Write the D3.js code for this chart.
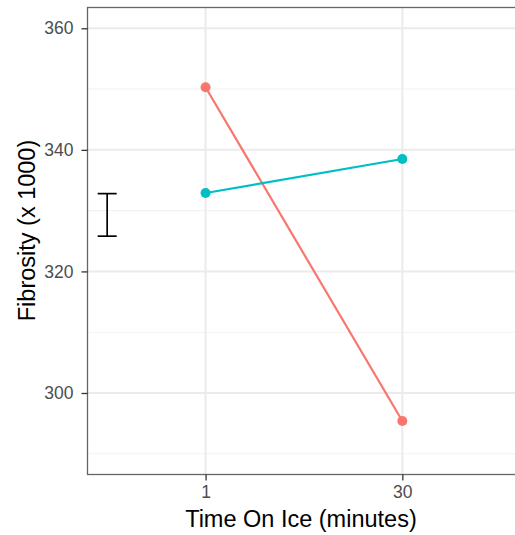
<!DOCTYPE html>
<html>
<head>
<meta charset="utf-8">
<script src="https://cdn.jsdelivr.net/npm/d3@7"></script>
<style>
  body { margin: 0; background: #fff; }
  svg { display: block; font-family: "Liberation Sans", Arial, sans-serif; }
</style>
</head>
<body>
<div id="chart"></div>
<script>
const width = 515;
const height = 535;
const marginTop = 7.5;
const marginLeft = 87.5;
const panelBottom = 474.5;
const panelRight = 520.4;

// data
const timeLevels = ["1", "30"];
const groupA = [350.3, 295.4];   // red
const groupB = [332.9, 338.5];   // teal
const errorBar = { pos: 0.5, low: 325.8, high: 332.8 };
const yTicks = [300, 320, 340, 360];
const yMinor = [290, 310, 330, 350];

const colors = ["#F8766D", "#00BFC4"];

const xScale = d3.scaleLinear()
    .domain([0.4, 2.6])
    .range([marginLeft, panelRight]);

const yScale = d3.scaleLinear()
    .domain([286.59, 363.42])
    .range([panelBottom, marginTop]);

const svg = d3.create("svg")
    .attr("width", width)
    .attr("height", height);

// grid
svg.append("g")
    .selectAll("line")
    .data(yMinor)
    .join("line")
    .attr("x1", marginLeft).attr("x2", panelRight)
    .attr("y1", d => yScale(d)).attr("y2", d => yScale(d))
    .attr("stroke", "#F2F2F2").attr("stroke-width", 1.1);

svg.append("g")
    .selectAll("line")
    .data(yTicks)
    .join("line")
    .attr("x1", marginLeft).attr("x2", panelRight)
    .attr("y1", d => yScale(d)).attr("y2", d => yScale(d))
    .attr("stroke", "#EBEBEB").attr("stroke-width", 2);

svg.append("g")
    .selectAll("line")
    .data([1, 2])
    .join("line")
    .attr("x1", d => xScale(d)).attr("x2", d => xScale(d))
    .attr("y1", marginTop).attr("y2", panelBottom)
    .attr("stroke", "#EBEBEB").attr("stroke-width", 2);

// series
const line = d3.line()
    .x((d, i) => xScale(i + 1))
    .y(d => yScale(d));

[groupA, groupB].forEach((values, k) => {
    svg.append("path")
        .datum(values)
        .attr("fill", "none")
        .attr("stroke", colors[k])
        .attr("stroke-width", 2.2)
        .attr("d", line);

    svg.append("g")
        .selectAll("circle")
        .data(values)
        .join("circle")
        .attr("cx", (d, i) => xScale(i + 1))
        .attr("cy", d => yScale(d))
        .attr("r", 5)
        .attr("fill", colors[k]);
});

// error bar
const ex = xScale(errorBar.pos);
const capHalf = 9.5;
const eb = svg.append("g")
    .attr("stroke", "#000")
    .attr("stroke-width", 1.7);
eb.append("line")
    .attr("x1", ex).attr("x2", ex)
    .attr("y1", yScale(errorBar.high)).attr("y2", yScale(errorBar.low));
[errorBar.high, errorBar.low].forEach(v => {
    eb.append("line")
        .attr("x1", ex - capHalf).attr("x2", ex + capHalf)
        .attr("y1", yScale(v)).attr("y2", yScale(v));
});

// panel border
svg.append("rect")
    .attr("x", marginLeft).attr("y", marginTop)
    .attr("width", panelRight - marginLeft)
    .attr("height", panelBottom - marginTop)
    .attr("fill", "none")
    .attr("stroke", "#666")
    .attr("stroke-width", 1.3);

// axes
const xAxis = svg.append("g")
    .attr("transform", `translate(0,${panelBottom})`)
    .call(d3.axisBottom(xScale)
        .tickValues([1, 2])
        .tickFormat(d => timeLevels[d - 1])
        .tickSize(6)
        .tickPadding(5));

const yAxis = svg.append("g")
    .attr("transform", `translate(${marginLeft},0)`)
    .call(d3.axisLeft(yScale)
        .tickValues(yTicks)
        .tickSize(6)
        .tickPadding(8));

[xAxis, yAxis].forEach(ax => {
    ax.select(".domain").remove();
    ax.selectAll(".tick line").attr("stroke", "#333").attr("stroke-width", 1.3);
    ax.selectAll(".tick text")
        .attr("fill", "#4D4D4D")
        .style("font-size", "17.5px")
        .style("font-family", "\"Liberation Sans\", Arial, sans-serif");
});

// axis titles
svg.append("text")
    .attr("text-anchor", "middle")
    .attr("x", (marginLeft + panelRight) / 2 - 3)
    .attr("y", 527)
    .style("font-size", "23.5px")
    .attr("fill", "#000")
    .text("Time On Ice (minutes)");

svg.append("text")
    .attr("text-anchor", "middle")
    .attr("transform", "rotate(-90)")
    .attr("x", -230.5)
    .attr("y", 35)
    .style("font-size", "23.5px")
    .attr("fill", "#000")
    .text("Fibrosity (x 1000)");

document.getElementById("chart").append(svg.node());
</script>
</body>
</html>
